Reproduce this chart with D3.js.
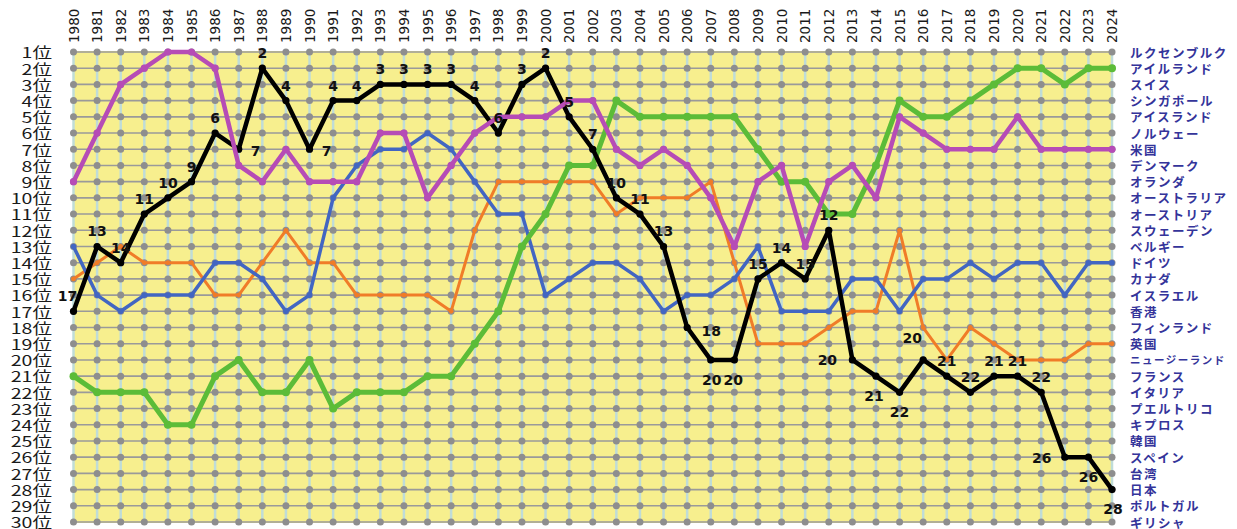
<!DOCTYPE html>
<html><head><meta charset="utf-8">
<script src="https://cdn.jsdelivr.net/npm/d3@7"></script>
<style>
html,body{margin:0;padding:0;background:#fff;}
svg{display:block;}
</style></head>
<body>
<svg id="chart" width="1237" height="529"></svg>
<script>
// ---------- DATA ----------
const years = [1980,1981,1982,1983,1984,1985,1986,1987,1988,1989,1990,1991,1992,1993,1994,1995,1996,1997,1998,1999,
  2000,2001,2002,2003,2004,2005,2006,2007,2008,2009,2010,2011,2012,2013,2014,2015,2016,2017,2018,2019,2020,2021,2022,2023,2024];
const rankLabels = ["1位","2位","3位","4位","5位","6位","7位","8位","9位","10位","11位","12位","13位","14位","15位",
  "16位","17位","18位","19位","20位","21位","22位","23位","24位","25位","26位","27位","28位","29位","30位"];
const countries2024 = ["ルクセンブルク","アイルランド","スイス","シンガポール","アイスランド","ノルウェー","米国","デンマーク",
  "オランダ","オーストラリア","オーストリア","スウェーデン","ベルギー","ドイツ","カナダ","イスラエル","香港","フィンランド",
  "英国","ニュージーランド","フランス","イタリア","プエルトリコ","キプロス","韓国","スペイン","台湾","日本","ポルトガル","ギリシャ"];

const japan   = [17,13,14,11,10,9,6,7,2,4,7,4,4,3,3,3,3,4,6,3,2,5,7,10,11,13,18,20,20,15,14,15,12,20,21,22,20,21,22,21,21,22,26,26,28];
const usa     = [9,6,3,2,1,1,2,8,9,7,9,9,9,6,6,10,8,6,5,5,5,4,4,7,8,7,8,10,13,9,8,13,9,8,10,5,6,7,7,7,5,7,7,7,7];
const ireland = [21,22,22,22,24,24,21,20,22,22,20,23,22,22,22,21,21,19,17,13,11,8,8,4,5,5,5,5,5,7,9,9,11,11,8,4,5,5,4,3,2,2,3,2,2];
const germany = [13,16,17,16,16,16,14,14,15,17,16,10,8,7,7,6,7,9,11,11,16,15,14,14,15,17,16,16,15,13,17,17,17,15,15,17,15,15,14,15,14,14,16,14,14];
const uk      = [15,14,13,14,14,14,16,16,14,12,14,14,16,16,16,16,17,12,9,9,9,9,9,11,10,10,10,9,14,19,19,19,18,17,17,12,18,20,18,19,20,20,20,19,19];

// ---------- LAYOUT ----------
const svg = d3.select("#chart");
const x = d3.scalePoint().domain(years).range([73.5, 1112]);
const y = d3.scaleLinear().domain([1, 30]).range([52, 522]);
const ranks = rankLabels.map((d, i) => i + 1);

// background
svg.append("rect")
  .attr("x", x(years[0])).attr("y", y(1) - 1)
  .attr("width", x(years[years.length - 1]) - x(years[0]) + 1)
  .attr("height", y(30) - y(1) + 2)
  .attr("fill", "#f7ef8e");

// vertical year lines
svg.append("g").selectAll("line").data(years).join("line")
  .attr("x1", d => x(d)).attr("x2", d => x(d))
  .attr("y1", y(1)).attr("y2", y(30))
  .attr("stroke", "#bfdcd8").attr("stroke-width", 2.5);

// grey rank lines (other countries)
const line = d3.line().x(d => x(d[0])).y(d => y(d[1]));
svg.append("g").selectAll("path").data(ranks).join("path")
  .attr("d", r => line(years.map(yr => [yr, r])))
  .attr("fill", "none").attr("stroke", "#9a9a9a").attr("stroke-width", 1.6);

// grey dots
const gd = svg.append("g");
ranks.forEach(r => {
  gd.selectAll(null).data(years).join("circle")
    .attr("cx", d => x(d)).attr("cy", y(r)).attr("r", 3.5)
    .attr("fill", "#8e8e8e");
});

// highlighted series
const series = [
  {values: uk, color: "#f07c28", width: 3},
  {values: germany, color: "#4266c2", width: 3.5},
  {values: ireland, color: "#5cbc38", width: 5},
  {values: japan, color: "#000000", width: 4.5},
  {values: usa, color: "#b64cb6", width: 4.5}
];
series.forEach(s => {
  const pts = years.map((yr, i) => [yr, s.values[i]]);
  svg.append("path").attr("d", line(pts))
    .attr("fill", "none").attr("stroke", s.color).attr("stroke-width", s.width)
    .attr("stroke-linejoin", "round").attr("stroke-linecap", "round");
  svg.append("g").selectAll("circle").data(pts).join("circle")
    .attr("cx", d => x(d[0])).attr("cy", d => y(d[1])).attr("r", s.width * 0.8)
    .attr("fill", s.color);
});

// Japan rank labels
const placement = {1980:[-6,-15],1987:[17,2],1990:[17,2],2006:[24,3],2007:[1,20],2008:[-1,20],
  2013:[-25,0],2014:[-2,20],2015:[0,20],2016:[-11,-22],2022:[-23,1],2023:[0,20],2024:[1,19]};
svg.append("g").selectAll("text").data(years).join("text")
  .attr("x", (d, i) => x(d) + (placement[d] ? placement[d][0] : 0))
  .attr("y", (d, i) => y(japan[i]) + (placement[d] ? placement[d][1] : -15))
  .attr("text-anchor", "middle").attr("dominant-baseline", "central")
  .attr("font-family", "DejaVu Sans, Verdana, sans-serif").attr("font-weight", "bold")
  .attr("font-size", 14).attr("fill", "#111")
  .text((d, i) => japan[i]);

// year labels (top)
svg.append("g").selectAll("text").data(years).join("text")
  .attr("transform", d => `translate(${x(d) + 5},43) rotate(-90)`)
  .attr("text-anchor", "start")
  .attr("font-family", "DejaVu Sans, Verdana, sans-serif").attr("font-size", 13.5)
  .attr("fill", "#1a1a1a").text(d => d);

// rank labels (left)
svg.append("g").selectAll("text").data(rankLabels).join("text")
  .attr("transform", (d, i) => `translate(52,${y(i + 1)}) scale(1.35,1)`)
  .attr("text-anchor", "end").attr("dominant-baseline", "central")
  .attr("font-family", "Noto Sans CJK JP, sans-serif").attr("font-size", 14.5)
  .attr("fill", "#1a1a1a").text(d => d);

// country labels (right)
svg.append("g").selectAll("text").data(countries2024).join("text")
  .attr("x", 1130).attr("y", (d, i) => y(i + 1))
  .attr("dominant-baseline", "central")
  .attr("font-family", "Noto Sans CJK JP, sans-serif").attr("font-weight", "bold")
  .attr("font-size", d => d.length > 7 ? 10.5 : 12.5)
  .attr("letter-spacing", 1.5)
  .attr("fill", "#34349a").text(d => d);
</script>
</body></html>
